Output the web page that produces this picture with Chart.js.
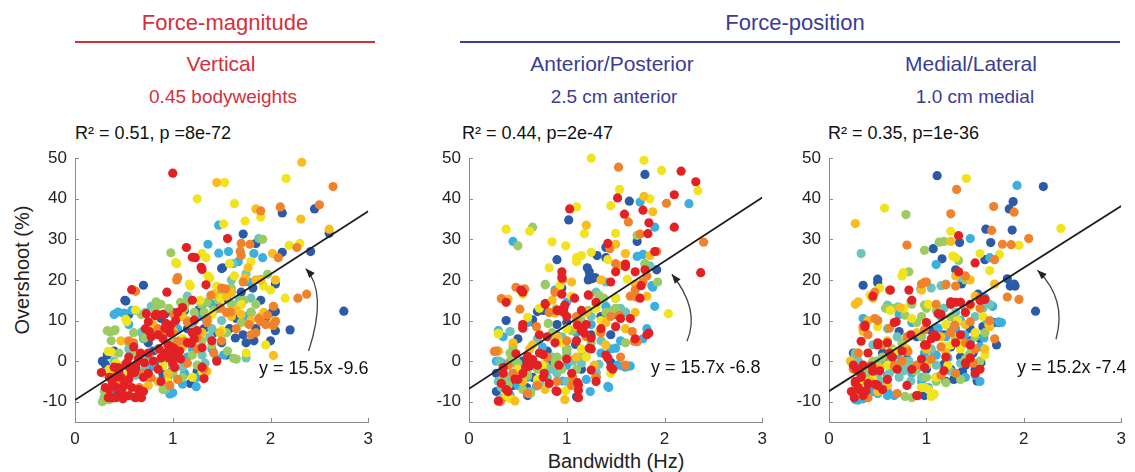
<!DOCTYPE html>
<html>
<head>
<meta charset="utf-8">
<script src="https://cdn.jsdelivr.net/npm/chart.js@4.4.1/dist/chart.umd.min.js"></script>
<style>
body { margin:0; width:1135px; height:472px; background:#fff; position:relative; overflow:hidden; font-family:"Liberation Sans", Arial, sans-serif; }
.t { position:absolute; white-space:nowrap; transform:translate(-50%,-50%); }
.l { position:absolute; white-space:nowrap; transform:translateY(-50%); color:#111; }
.rule { position:absolute; height:2px; }
canvas { position:absolute; }
</style>
</head>
<body>
<div class="t" style="left:225px;top:23px;color:#d42f3c;font-size:22px">Force-magnitude</div>
<div class="rule" style="left:75px;top:41px;width:300px;background:#d42f3c"></div>
<div class="t" style="left:795px;top:23px;color:#3b3c95;font-size:22px">Force-position</div>
<div class="rule" style="left:460px;top:41px;width:660px;background:#3b3c95"></div>

<div class="t" style="left:221px;top:64px;color:#d42f3c;font-size:21px">Vertical</div>
<div class="t" style="left:223px;top:97px;color:#d42f3c;font-size:19px">0.45 bodyweights</div>
<div class="t" style="left:612px;top:64px;color:#3b3c95;font-size:21px">Anterior/Posterior</div>
<div class="t" style="left:614px;top:97px;color:#3b3c95;font-size:19px">2.5 cm anterior</div>
<div class="t" style="left:971px;top:64px;color:#3b3c95;font-size:21px">Medial/Lateral</div>
<div class="t" style="left:975px;top:97px;color:#3b3c95;font-size:19px">1.0 cm medial</div>

<div class="l" style="left:75px;top:133px;font-size:18px">R² = 0.51, p =8e-72</div>
<div class="l" style="left:462px;top:133px;font-size:18px">R² = 0.44, p=2e-47</div>
<div class="l" style="left:828px;top:133px;font-size:18px">R² = 0.35, p=1e-36</div>

<div class="t" style="left:22px;top:270px;font-size:20px;color:#222;transform:translate(-50%,-50%) rotate(-90deg)">Overshoot (%)</div>
<div class="t" style="left:616px;top:461px;font-size:20px;color:#222">Bandwidth (Hz)</div>

<canvas id="c1" width="350" height="332" style="left:30px;top:140px"></canvas>
<canvas id="c2" width="350" height="332" style="left:424px;top:140px"></canvas>
<canvas id="c3" width="349" height="332" style="left:784px;top:140px"></canvas>

<div class="l" style="left:259px;top:368px;font-size:18px">y = 15.5x -9.6</div>
<div class="l" style="left:651px;top:367px;font-size:18px">y = 15.7x -6.8</div>
<div class="l" style="left:1017px;top:367px;font-size:18px">y = 15.2x -7.4</div>

<script>
const xTicks = [0, 1, 2, 3];
const yTicks = [-10, 0, 10, 20, 30, 40, 50];
const slopes = [15.5, 15.7, 15.2];
const intercepts = [-9.6, -6.8, -7.4];
const arrowTail = [[2.39, 2.5], [2.23, 4.9], [2.33, 5.4]];
const arrowBend = [[2.48, 14.8], [2.26, 12.9], [2.34, 14.6]];
const arrowTip = [[2.36, 22.8], [2.075, 21.4], [2.14, 22.4]];

// drawn top-most first
const pointColors = ['#e32124', '#f0822c', '#f9be1d', '#f2e41c', '#9bcb63', '#6cc5b8', '#3bb0e0', '#2b5aa6'];

// ---- Vertical ----
const p1Red = [[1.0,46.3],[1.14,28],[1.2,25.6],[1.23,25.5],[1.56,30.2],[1.3,22.6],[1.34,18.8],[0.94,17],[0.58,17.6],[1.1,13.2],[0.82,11.2],[0.9,11.5],[0.93,9.3],[1.03,10],[1.05,12],[0.72,8],[0.78,6],[0.85,6.5],[0.9,5.5],[0.95,4],[0.98,2.5],[1.0,1.5],[1.02,3],[0.96,0.8],[1.04,1.2],[1.07,2.5],[0.92,2],[1.0,-0.5],[1.08,0.5],[1.2,7],[1.25,7.5],[1.22,5.5],[1.15,4.5],[1.32,-4.3],[1.3,-1.5],[1.3,3.3],[0.67,2],[0.62,-1],[0.58,-3],[0.52,-1],[0.47,-4],[0.42,-6.5],[0.38,-5],[0.35,-4],[0.34,-9],[0.38,-9],[0.42,-9],[0.47,-8],[0.55,-8.5],[0.62,-9],[0.65,-7],[0.68,-9],[0.45,-2.5],[0.5,-6],[0.55,-4.5],[0.4,-1.5],[0.7,-4],[0.75,-3],[0.8,0],[0.85,-2],[0.65,0.5],[0.6,3.5],[0.55,1],[0.75,2],[0.88,-5],[1.2,15],[1.4,5],[1.45,0],[0.97,7],[0.86,3],[0.35,-7],[0.48,-7],[0.57,-2],[0.7,-7.5],
  [0.73,11.7],[0.83,11.5],[0.98,8.9],[0.92,8.1],[0.75,9.7],[0.76,7.3],[1.22,10.1],[1.19,4.4],[1.02,-1.6],[0.98,3.6],[0.88,0.8],[0.71,-0.4],[0.44,-1.6],[0.41,-4],[0.58,-6.5],[0.61,-8.9],[0.49,-9.3],[0.31,-6.5],[0.53,-0.4],[0.61,-2.8],[0.27,-2.8],[1.29,23.1],[0.94,2],[0.99,1]];
const p1Orange = [[2.64,43],[2.1,38],[2.5,38.5],[1.9,37],[1.7,29],[1.79,28.8],[2.27,28],[2.08,25.5],[1.04,20],[1.7,26],[1.72,19.5],[2.28,15.5],[2.37,16.5],[2.03,13.5],[2.03,8.8],[1.95,9],[1.88,10.5],[1.85,7],[1.78,9],[1.5,18],[1.55,12],[1.65,8],[1.42,2],[1.35,9.5],[1.25,3],[1.15,-0.5],[1.32,-2],[1.05,-4.5],[0.97,-6],[0.85,8],[0.62,17.2],[0.6,4.5],[0.55,5],[0.45,-6],[0.4,-9],[0.5,-8.5],[0.7,-3],[1.0,7],[1.15,9.5],[1.5,5],
  [1.01,11.5],[1.12,4.9],[1.25,5.7],[1.39,16.2],[1.54,17.8],[1.59,12.1],[1.8,6.5],[1.9,9.7],[1.97,11.3],[2.05,9.7],[1.69,27.1],[1.05,20.6],[0.47,-4.5],[0.66,-6.5],[0.78,-4.1],[1.05,4.9],[0.88,6.5],[1.35,10.5],[1.49,13]];
const p1Gold = [[1.45,44],[2.32,49],[1.85,37.5],[2.31,35],[2.6,32.5],[2.02,26.5],[1.77,23],[1.74,20.5],[1.85,20],[1.9,20],[2.05,20],[1.42,16.5],[1.55,16],[1.65,12.5],[1.8,10],[1.9,11],[2.0,9],[2.05,10],[2.03,1.4],[1.2,5],[1.3,7],[1.1,3.5],[0.8,9],[0.6,4],[0.47,5],[0.4,-3],[1.35,-2.5],[0.95,-3],[1.6,17],[1.7,11.5],[1.48,7],[0.85,-5],
  [0.55,-4],[1.6,11],[1.93,12],[1.1,11],[0.75,-6]];
const p1Yellow = [[1.53,44],[2.16,45],[1.25,40],[1.63,38.8],[1.74,34.5],[1.52,33.8],[1.9,35.5],[2.19,28.5],[2.3,29],[1.3,26.5],[1.34,25.5],[1.04,24],[1.18,18.5],[1.38,20.5],[0.6,17.5],[0.62,12.6],[0.52,10.3],[0.37,2.3],[0.42,-0.5],[0.55,-3],[0.65,-7.5],[0.8,0],[1.0,7.5],[1.1,5.5],[1.28,15],[1.45,18.5],[1.58,24],[1.63,21],[1.8,24.5],[1.93,18.5],[2.0,17.5],[2.15,15.5],[1.95,4],[1.7,14],[1.4,11.5],[1.2,-4],[0.9,-1],[0.35,-2],
  [1.03,24.3],[1.36,21],[1.17,19],[0.53,9.7],[0.34,2.4],[1.49,15.5],[1.3,-2.5],[0.95,-5],[1.5,7.5],[1.75,2]];
const p1Green = [[0.98,26.7],[1.92,30],[1.47,15],[1.6,14],[1.62,0.7],[1.65,0.5],[0.33,7.5],[0.4,7.5],[0.37,5],[0.28,-10],[0.32,-9],[0.3,-7.5],[0.55,4.5],[0.6,7],[0.68,11.5],[0.82,12.5],[0.88,14],[0.96,13],[1.08,14.5],[1.12,13],[1.22,12],[1.35,14.5],[1.42,12.5],[1.5,17],[1.6,18],[1.73,15],[1.8,12],[1.4,4],[1.3,5],[1.0,5],[0.9,-7],[1.1,-4],[0.75,8],[0.45,2],[0.5,-1],[1.15,10],[1.25,-1],[0.7,0],[1.55,7],[1.7,9.5],[1.85,14],
  [0.41,7.7],[0.36,7.2],[0.71,5.7],[0.78,6.9],[1.08,5.2],[1.32,12.1],[1.46,16.2],[1.56,2.5],[0.83,14.6],[1.15,14.6],[1.29,14.1],[1.73,19.8],[1.97,21.4],[0.35,-9.5],[1.2,1.5],[1.0,-3],[0.62,2]];
const p1Teal = [[1.75,21.5],[1.88,30.2],[1.62,24],[0.93,-7],[0.68,7],[0.72,12],[0.78,13.5],[0.3,-9],[0.36,-7],[0.45,-3],[0.5,-4],[0.62,-3.5],[1.0,-1],[1.1,-1.5],[1.3,1.5],[1.5,10],[1.55,16.5],[1.68,15],[1.8,15.5],[0.85,3],[1.2,9],[1.4,8],[0.4,0],[0.55,3],[1.05,4],[1.33,-0.5],
  [0.71,-2],[0.69,7.3],[1.75,0.8],[1.38,6],[0.85,-5],[1.15,16],[1.6,20]];
const p1Sky = [[1.47,33.5],[1.36,28.8],[1.47,26.6],[1.57,27],[1.67,24.5],[1.83,26.5],[1.92,25.5],[0.5,11.8],[0.62,12.5],[0.4,11.5],[0.55,9],[0.7,5.5],[0.38,-3],[0.42,-1.5],[0.33,-2.5],[0.65,1],[0.77,-1.5],[1.0,-7.8],[1.24,-6.3],[1.45,0.5],[1.52,1.5],[1.15,1],[0.9,0],[1.05,8],[1.2,3],[1.3,11],[1.4,14],[1.75,11],[1.6,17],[1.78,19.5],[0.85,14],[0.95,-4],[1.12,-3],[0.55,-1],[0.3,-9],[0.45,-5],
  [0.44,12.1],[0.58,12.5],[0.97,-8.1],[1.1,-5.7],[0.75,1.5],[1.25,-4],[1.4,3]];
const p1DarkBlue = [[2.45,37.5],[2.12,36.5],[2.6,31.5],[2.41,27],[2.12,26.8],[1.72,31.3],[1.85,29],[1.5,22.8],[0.7,18.7],[0.52,14.8],[0.5,11.8],[0.55,11.5],[0.28,0],[0.33,1.5],[0.4,2.5],[0.85,11.5],[0.92,11.6],[1.0,12],[1.1,11],[1.3,14],[1.42,7],[1.5,4.5],[1.55,1.5],[1.58,8],[1.62,12.5],[1.7,14],[1.72,6.5],[1.75,4.5],[1.8,12],[1.83,5],[1.85,8],[1.95,10],[2.0,5],[2.05,7.5],[2.05,12.2],[2.2,7.7],[2.75,12.3],[1.82,18],[2.05,19],[1.9,20],[1.27,12.7],[0.9,-3.3],[1.0,-2],[0.6,-2],[0.4,-7.5],[0.68,-2.5],[1.18,-5.5],[0.75,4.5],[1.15,8],[1.35,10],[1.45,13],[1.55,15.5],[1.65,10.5],[1.25,-2.5],[0.8,2.5],
  [0.51,15],[1.51,23],[1.64,5.7],[2.02,12.1],[0.88,10.5],[1.12,12.5],[1.32,8],[0.88,-0.8],[0.59,3.6],[0.31,-0.8],[1.7,17],[1.9,15]];

// ---- Anterior/Posterior ----
const p2Red = [[1.03,37.5],[1.52,40.2],[1.59,36.2],[1.78,37.2],[1.84,34.1],[2.1,41],[2.17,46.8],[2.32,44.2],[2.1,33],[1.83,31.4],[1.42,29],[1.6,23.3],[1.7,22],[1.8,22.5],[1.9,27],[2.37,21.8],[0.95,22],[0.95,20.5],[0.95,16.5],[0.9,12.5],[0.97,12],[1.0,11],[1.08,15.5],[1.22,16.3],[1.15,12.5],[1.3,14.5],[1.35,8],[1.2,9],[1.15,7.5],[1.1,5],[1.25,3],[1.25,-2.2],[1.12,-5.8],[1.12,-7.2],[1.12,-9],[0.9,-7.5],[0.82,-5.5],[0.77,-3],[0.7,-1],[0.65,0],[0.6,0.5],[0.58,-1.5],[0.55,-3],[0.5,-4.5],[0.38,-7],[0.4,-7.5],[0.3,-9.8],[0.33,-5.5],[0.35,-3],[0.48,1.8],[0.6,1.2],[0.55,9],[0.53,17.5],[0.55,17],[0.38,14.5],[0.78,14],[0.88,4.5],[1.0,0.5],[1.3,-5],[1.4,1.5],[1.45,-1.5],[1.55,10.5],[1.65,10.5],[1.5,8.5],[1.7,5.5],[1.82,6.5],[1.75,15.5],[1.45,19.5],[1.5,22],[0.8,6],[0.72,2],[1.05,-3],[0.92,-1],
  [0.925,12.5],[0.98,13.8],[1.11,8.9],[1.18,6.9],[1.23,3.2],[0.76,1.6],[0.65,0.4],[0.62,-1.2],[0.35,-1.6],[0.47,-4.4],[0.76,-4],[0.89,-7.3],[1.11,-5.3],[1.42,0.8],[1.47,-2],[1.6,23.9],[1.76,18.6],[1.84,6.9],[1.25,5.7],[0.55,8.1],[0.72,6.5]];
const p2Orange = [[1.53,47.8],[2.02,38.9],[1.92,27],[1.63,34.3],[2.4,29.3],[1.75,31.3],[1.82,21],[1.5,24],[1.7,17.5],[1.78,19.5],[1.65,16],[1.72,4.8],[1.44,27.7],[0.95,21],[0.88,17],[0.57,17.8],[0.52,12.8],[0.82,12],[1.1,11],[1.35,7],[1.3,-4],[1.05,-6],[0.9,-5],[0.7,-6],[0.6,-8],[0.45,-3],[0.4,-1],[0.28,2.5],[0.32,-10],[0.8,1],[1.0,5],[1.2,6],[1.55,1],[1.6,-1],[1.45,11],
  [0.33,15.4],[0.48,18.2],[0.96,20.2],[1.23,16.2],[1.71,15.8],[1.67,7.3],[1.69,4.9],[0.26,2.4],[0.69,8.5],[1.06,-4],[1.54,11.3]];
const p2Gold = [[1.79,40.6],[1.88,36.8],[1.2,33.5],[1.5,28.8],[1.05,19.5],[1.35,20],[1.55,23.5],[1.7,19],[1.6,26.5],[1.85,26],[0.4,15.3],[0.88,11.8],[0.45,4.5],[0.3,2.5],[0.47,-9.8],[0.98,-9.5],[0.65,4],[0.9,6],[1.1,8.5],[1.2,12],[1.4,9.5],[1.6,8],[1.7,12],[1.82,16],[1.28,-1],[0.78,-7],[0.55,-5],
  [0.62,3],[1.1,1],[1.4,4],[0.85,15]];
const p2Yellow = [[1.25,50],[1.79,49.5],[1.97,47],[2.34,42],[1.54,42.3],[1.45,38.3],[1.85,40],[1.1,38],[0.38,32.5],[0.62,32],[0.85,29.4],[0.99,28.4],[1.18,31.4],[1.1,24.5],[1.15,26],[1.25,26.8],[1.5,31.5],[1.42,25],[0.82,23],[0.55,16.5],[0.72,13],[0.6,10.8],[0.3,6.7],[1.5,15.5],[2.04,11.7],[1.62,20.2],[0.95,4.5],[1.2,1],[0.5,-2],[0.42,-9.2],[0.38,-8.5],[1.0,8],[1.05,16],[1.35,10],[0.7,-4.5],[1.45,-3],[1.15,3],
  [1.1,25.5],[0.93,18.6],[0.3,6.9],[0.99,-7.3],[1.33,7.3],[0.75,-1],[1.3,13]];
const p2Green = [[0.65,33],[0.5,28.4],[0.78,18.8],[1.72,31],[1.8,24],[1.93,19.5],[1.38,15.5],[1.4,12],[1.47,12.5],[1.5,13],[1.3,14],[1.22,12.5],[1.15,10],[1.0,3],[0.95,-2],[0.9,1],[0.88,-0.5],[0.78,-1],[0.7,-2],[0.6,-3.5],[0.5,-0.5],[0.42,2],[0.35,-4],[0.4,-6],[0.63,-8],[0.55,-7],[1.1,-2],[1.25,4.5],[1.05,7.5],[1.6,4.5],[0.45,3.5],
  [0.81,9.3],[0.89,12.9],[1.33,16.2],[0.89,0],[0.99,0.8],[1.16,1.5],[0.42,0],[0.55,-4],[0.85,7]];
const p2Teal = [[0.78,18.9],[1.4,19.5],[1.55,13],[1.6,12],[1.3,17],[0.3,2.5],[0.3,-5],[0.4,-4.5],[0.33,-6.5],[0.35,-9],[0.5,-1],[0.6,-2],[0.63,-7.5],[0.72,-5.5],[0.8,-4],[0.9,-3],[0.85,1],[1.0,2],[1.08,0.5],[1.15,-0.5],[1.3,-3],[1.35,5],[1.25,11],[1.1,10],[0.95,6],[0.7,5.5],[1.8,24],[1.85,23.5],
  [0.42,7.3],[0.31,0],[0.48,-0.8],[0.69,-1.2],[0.84,-2],[1.06,0],[1.33,-0.8],[1.0,-5]];
const p2Sky = [[0.45,29.5],[1.75,39.2],[2.25,38.8],[1.9,33],[1.72,25.8],[1.78,26.3],[1.5,15.5],[1.88,18.2],[1.9,13.5],[0.6,9.5],[0.3,7.5],[0.35,6],[0.28,0],[0.34,-0.5],[0.45,-3],[0.5,-6],[0.6,-4],[0.75,3.5],[1.0,-1],[1.2,-4.5],[1.24,-7.5],[1.42,-6.2],[1.52,-1],[1.6,-1.5],[1.65,-1.2],[1.45,3],[1.35,2],[1.55,5],[1.25,9],[1.1,7],[1.0,14.5],[1.4,13.5],[0.88,17.5],[1.78,5.5],[1.82,8],[0.42,-8.5],
  [1.87,18.6],[1.3,-2.8],[1.43,-6.5],[1.57,-1.2],[1.64,-1.2],[0.69,-6.1],[0.96,-4.9],[1.5,3.2],[0.4,-6]];
const p2DarkBlue = [[1.02,34.8],[1.64,39.4],[1.8,46],[1.4,25.5],[1.31,26],[1.23,22],[1.26,20.3],[1.22,20],[0.9,25],[0.95,18],[0.97,13],[0.38,10],[0.7,12.2],[0.65,10.2],[0.78,14.2],[0.9,9],[1.0,9.5],[1.25,6.5],[1.35,11],[1.45,-0.3],[1.3,-4],[1.1,-8.8],[0.6,-8.5],[0.58,-6.7],[0.45,-6],[0.35,-3.5],[0.28,-7.5],[0.5,5.5],[0.55,0],[0.8,-0.5],[1.0,3],[1.4,28],[1.72,29.5],[1.6,12],[1.92,22.5],[0.8,2.5],[1.15,-2],[0.65,-4],[1.45,6.5],
  [1.21,23],[1.23,20.6],[1.29,20.6],[0.64,9.7],[0.76,12.5],[0.89,6.5],[1.09,4.1],[1.11,-8.9],[0.59,-6.5],[0.28,-3],[1.5,11.5]];

// ---- Medial/Lateral ----
const p3Red = [[1.33,30.9],[1.5,24.2],[1.33,22],[1.3,14.5],[1.35,14.5],[1.25,14],[1.4,12],[1.45,14],[1.55,15],[1.6,15.2],[1.15,11.5],[1.0,9.5],[0.85,15],[0.82,17.5],[0.45,16],[0.63,17.5],[0.67,9.5],[0.37,8.5],[0.5,4],[0.6,4.5],[0.4,2],[0.25,-1],[0.23,-7.5],[0.27,-5],[0.3,-7],[0.33,-3.5],[0.35,-8.5],[0.4,-5.5],[0.45,-2.5],[0.5,-6],[0.55,-7],[0.6,-4.5],[0.65,1],[0.7,-2],[0.8,-6],[0.85,-2],[0.9,-8.5],[1.0,4],[1.05,5.5],[1.1,6],[1.2,1],[1.3,4.5],[1.35,6.5],[1.45,4],[1.5,-3],[1.55,-2],[1.4,-0.5],[0.95,0.5],[0.75,2.5],[0.28,-2],
  [0.27,-5.3],[0.33,-4],[0.3,-6.5],[0.38,-7.3],[0.47,-5.7],[0.52,-2.4],[0.44,-1.2],[0.33,4.9],[0.37,8.9],[0.5,4.5],[0.62,2],[0.69,9.7],[0.84,6.5],[0.98,4],[1.08,6.5],[1.25,14.6],[1.56,15],[1.12,11.7],[0.98,-1.6],[1.18,-2.4],[1.45,0.8],[0.91,-8.5],[0.26,-9],[0.35,-1]];
const p3Orange = [[1.31,42.3],[1.25,36.3],[1.69,38.1],[1.9,36.7],[2.05,30.2],[1.67,32.2],[1.87,28.7],[1.78,28.8],[1.7,25],[1.95,15.2],[1.83,15.8],[1.4,21],[0.8,28.6],[0.95,19],[1.0,19.5],[1.2,18.8],[1.3,18.5],[0.47,17],[0.62,17.5],[0.35,8.5],[0.4,6.5],[0.3,2],[0.5,10],[0.55,4],[0.75,0],[0.9,-1],[0.8,6],[1.05,0.5],[1.15,3.5],[1.25,7],[1.4,4.5],[1.5,3],[1.55,13],[1.65,10],[1.7,5.5],[1.48,-0.5],[1.3,-3],[1.15,-3.5],[0.7,-8],[0.4,-9],[0.25,-2],
  [0.47,10.5],[0.62,8.1],[0.98,19.4],[1.55,15.5],[1.29,8.9],[1.45,9.7],[0.98,7.7],[0.81,2.4],[0.67,-1.2],[0.33,-7.3],[1.1,14]];
const p3Gold = [[0.27,33.9],[0.27,14],[0.45,15.5],[0.73,13.2],[0.22,0],[0.3,2],[0.5,-7.5],[0.27,-6.5],[0.42,-5],[0.6,5],[0.8,3],[1.0,-1],[1.2,2],[1.6,3],[1.65,8.5],[1.7,19],[1.45,20],[1.3,21],[1.5,16],[1.4,9],[1.15,6],[0.9,7],[0.95,17.5],[1.25,29.5],[0.35,8],[0.4,10],[0.52,-1.5],
  [0.3,14.6],[0.35,7.3],[1.64,8.9],[0.6,-6],[1.0,3]];
const p3Yellow = [[1.41,45],[0.57,37.7],[2.38,32.7],[1.25,32],[1.3,25.5],[1.95,28.5],[1.75,26.3],[1.55,26.5],[1.65,22.3],[0.75,21],[0.52,18],[0.77,13],[0.63,12.5],[0.5,8.5],[0.85,10.5],[1.02,14],[1.2,9],[1.32,10],[1.45,13.5],[1.58,11],[1.22,-1],[1.25,4],[1.1,-4],[1.05,-8.7],[1.02,-7],[0.95,-6.5],[0.33,-5],[0.32,-8],[0.45,-4.5],[0.6,-1],[0.68,2.5],[1.6,1.5],[1.35,3],[1.5,7],
  [0.76,21.8],[0.42,16.2],[1.18,3.6],[1.08,-8.1],[1.32,4.9],[0.98,-6.5],[1.27,25.9]];
const p3Green = [[0.79,36.1],[0.82,22],[0.98,27.3],[1.13,29.3],[1.18,29.5],[1.33,24.8],[1.4,20],[0.58,13],[0.65,13],[0.85,14],[1.0,13],[1.1,12.5],[0.9,9.5],[0.95,6],[0.78,-8.7],[0.85,-9],[0.95,-6.5],[1.0,-4],[1.1,-5],[1.2,-5.3],[1.35,-4.5],[0.55,1],[0.65,3],[0.45,0],[0.4,-3],[0.3,-5],[1.5,6],[1.6,7],[1.55,0],[0.75,4.5],[1.4,0.5],[1.3,5.5],
  [0.84,14.6],[0.98,13.8],[0.78,11.3],[0.95,11],[1.25,10.9],[0.76,0],[0.88,-2.4],[1.44,1.6],[1.2,3]];
const p3Teal = [[0.33,26.5],[0.5,10],[0.27,1.5],[0.3,0],[0.35,-2],[0.42,-1],[0.5,-3.5],[0.55,-5],[0.62,-3],[0.68,-1.5],[0.72,-4],[0.78,-2],[0.82,0],[0.9,-2],[0.95,-4],[1.0,0],[1.05,3],[1.1,-1],[1.2,1],[1.25,-2.5],[1.3,12],[1.4,12.5],[1.5,11],[1.58,13],[1.65,14],[1.05,18],[1.2,19],[0.7,6],[0.6,8],[0.45,4],[1.35,-0.5],[1.45,2],
  [0.6,13.8],[0.71,13.4],[0.94,17.8],[1.15,18.6],[1.35,20.6],[0.64,0],[0.71,-0.8],[0.77,-2.4],[0.5,0],[0.27,2],[0.84,-4.9],[1.18,13]];
const p3Sky = [[1.93,43.3],[1.45,30.2],[1.1,23.8],[1.65,25.5],[1.77,9.5],[1.68,13.5],[0.35,10.5],[0.27,-9.5],[0.3,-9.6],[0.38,-8.5],[0.45,-7.5],[0.5,-8],[0.6,-8.5],[1.05,-8.5],[1.02,-6.5],[0.95,-5],[0.85,-3],[0.6,-3.5],[0.55,-1],[0.7,1.5],[0.75,-1],[0.98,2],[1.1,1.5],[1.2,6],[1.3,8],[1.35,10],[1.45,4.5],[1.55,3.5],[1.55,-5],[1.4,-4],[1.15,11],[0.72,11.5],[0.85,9.5],[1.25,14.5],[1.6,15.5],[1.62,10],
  [1.12,8.1],[1.25,8.1],[1.39,6.5],[1.59,5.7],[1.74,9.7],[0.67,-8.5],[0.6,-7.5],[0.35,-9.3],[1.08,1.6],[1.22,0.8],[0.27,-1.2],[1.5,-3.5]];
const p3DarkBlue = [[1.11,45.7],[2.2,43],[1.89,39.3],[1.85,37.5],[1.88,32.3],[1.61,32.5],[1.66,29.2],[1.34,29.2],[1.07,27.7],[1.16,25.2],[1.6,25],[1.83,20.3],[1.86,18.5],[1.91,18.5],[2.12,12.3],[0.35,18.7],[0.5,19.3],[1.36,19],[1.3,22.5],[1.53,16.5],[1.6,15.5],[1.7,9.5],[1.72,4],[1.55,5.5],[1.2,-1],[1.3,-3],[1.4,-1],[1.48,2],[1.5,-2],[1.0,-2],[1.1,-4],[0.98,-8.5],[0.7,-1],[0.62,0],[0.55,2],[0.48,-4],[0.4,-7],[0.9,6],[1.05,7.5],[1.3,5],[1.45,8],[1.25,3.5],[1.35,1],[0.8,0.5],[1.45,5],[1.58,8.5],[1.2,-5],[1.28,-4.5],
  [0.5,20.2],[1.9,19],[1.66,9.7],[1.75,9.5],[1.18,6.5],[1.32,5.3],[1.42,4.8],[1.18,-0.8],[1.25,-2],[1.52,-4.9],[1.56,-0.4],[0.72,7.3],[0.25,2],[1.37,-2.5]];

const panelSets = [
  [p1Red, p1Orange, p1Gold, p1Yellow, p1Green, p1Teal, p1Sky, p1DarkBlue],
  [p2Red, p2Orange, p2Gold, p2Yellow, p2Green, p2Teal, p2Sky, p2DarkBlue],
  [p3Red, p3Orange, p3Gold, p3Yellow, p3Green, p3Teal, p3Sky, p3DarkBlue]
];

const tickFont = { family: '"Liberation Sans", Arial, sans-serif', size: 17 };

const innerTicks = {
  id: 'innerTicks',
  afterDraw(chart) {
    const { ctx, chartArea: a, scales: { x, y } } = chart;
    ctx.save();
    ctx.strokeStyle = '#8c8c8c';
    ctx.lineWidth = 1;
    ctx.beginPath();
    x.ticks.forEach(t => {
      const px = Math.round(x.getPixelForValue(t.value)) + 0.5;
      ctx.moveTo(px, a.bottom);
      ctx.lineTo(px, a.bottom - 4);
    });
    y.ticks.forEach(t => {
      const py = Math.round(y.getPixelForValue(t.value)) + 0.5;
      ctx.moveTo(a.left, py);
      ctx.lineTo(a.left + 4, py);
    });
    ctx.stroke();
    ctx.restore();
  }
};

const fitArrow = {
  id: 'fitArrow',
  afterDatasetsDraw(chart, args, opts) {
    const { ctx, scales: { x, y } } = chart;
    const P = p => [x.getPixelForValue(p[0]), y.getPixelForValue(p[1])];
    const t0 = P(opts.tail), b = P(opts.bend), t1 = P(opts.tip);
    const c = [2 * b[0] - (t0[0] + t1[0]) / 2, 2 * b[1] - (t0[1] + t1[1]) / 2];
    ctx.save();
    ctx.strokeStyle = '#444';
    ctx.fillStyle = '#222';
    ctx.lineWidth = 1.3;
    ctx.beginPath();
    ctx.moveTo(t0[0], t0[1]);
    ctx.quadraticCurveTo(c[0], c[1], t1[0], t1[1]);
    ctx.stroke();
    const ang = Math.atan2(t1[1] - c[1], t1[0] - c[0]);
    ctx.beginPath();
    ctx.moveTo(t1[0], t1[1]);
    ctx.lineTo(t1[0] - 10 * Math.cos(ang - 0.38), t1[1] - 10 * Math.sin(ang - 0.38));
    ctx.lineTo(t1[0] - 10 * Math.cos(ang + 0.38), t1[1] - 10 * Math.sin(ang + 0.38));
    ctx.closePath();
    ctx.fill();
    ctx.restore();
  }
};

function makePanel(id, i) {
  const datasets = [{
    type: 'line',
    data: [{ x: 0, y: intercepts[i] }, { x: 3, y: intercepts[i] + 3 * slopes[i] }],
    borderColor: '#1e1e1e',
    borderWidth: 1.8,
    pointRadius: 0,
    fill: false
  }];
  panelSets[i].forEach((pts, k) => {
    datasets.push({
      data: pts.map(p => ({ x: p[0], y: p[1] })),
      backgroundColor: pointColors[k],
      borderWidth: 0,
      pointRadius: 4.6,
      clip: false
    });
  });

  new Chart(document.getElementById(id), {
    type: 'scatter',
    data: { datasets },
    options: {
      responsive: false,
      animation: false,
      events: [],
      layout: { padding: { top: 14, right: 10, bottom: 20, left: 0 } },
      plugins: {
        legend: { display: false },
        tooltip: { enabled: false },
        fitArrow: { tail: arrowTail[i], bend: arrowBend[i], tip: arrowTip[i] }
      },
      scales: {
        x: {
          type: 'linear', min: 0, max: 3,
          afterBuildTicks: s => { s.ticks = xTicks.map(v => ({ value: v })); },
          afterFit: s => { s.height = 30; },
          grid: { display: false, drawTicks: false },
          border: { display: true, color: '#8c8c8c', width: 1 },
          ticks: { color: '#222', font: tickFont, padding: 7, maxRotation: 0 }
        },
        y: {
          type: 'linear', min: -15, max: 50,
          afterBuildTicks: s => { s.ticks = yTicks.map(v => ({ value: v })); },
          afterFit: s => { s.width = 45; },
          grid: { display: false, drawTicks: false },
          border: { display: true, color: '#8c8c8c', width: 1 },
          ticks: { color: '#222', font: tickFont, padding: 8 }
        }
      }
    },
    plugins: [innerTicks, fitArrow]
  });
}

makePanel('c1', 0);
makePanel('c2', 1);
makePanel('c3', 2);
</script>
</body>
</html>
